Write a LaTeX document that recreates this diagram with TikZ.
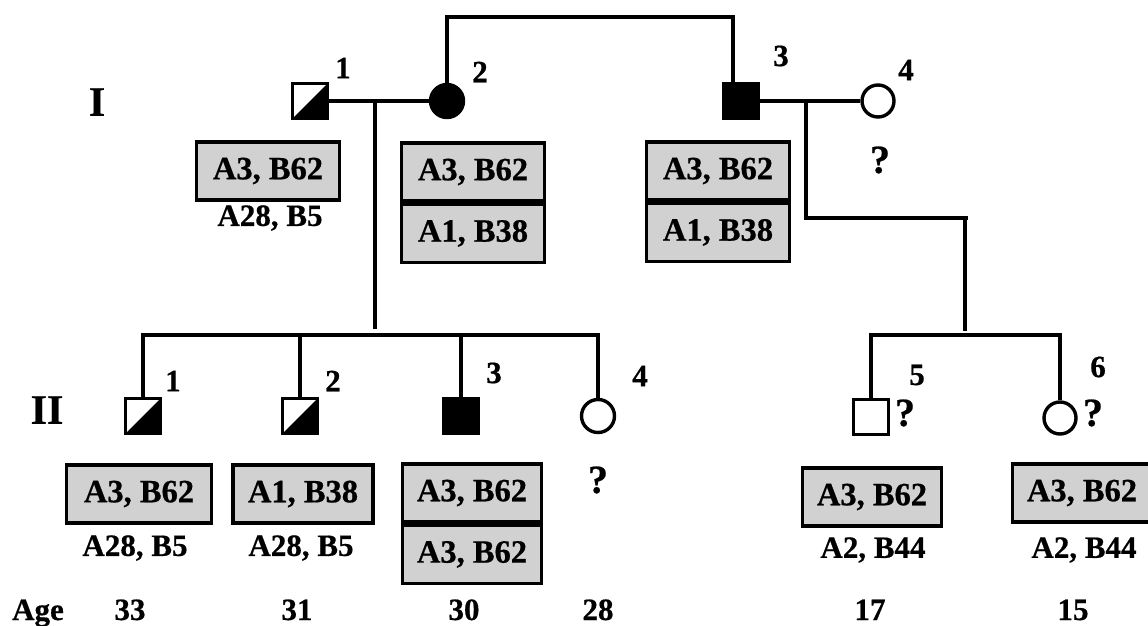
\documentclass[tikz,border=0pt]{standalone}
\usepackage{fontspec}
\setmainfont{Liberation Serif}
\newfontfamily\hlafont{Liberation Serif}[FakeBold=0.6]
\usetikzlibrary{positioning}

\begin{document}
\begin{tikzpicture}[x=1pt, y=-1pt, line width=3.4pt,
	male/.style={draw, rectangle, minimum size=35pt, inner sep=0pt},
	female/.style={draw, circle, minimum size=33pt, inner sep=0pt},
	carrier/.style={path picture={\fill (path picture bounding box.south west) -- (path picture bounding box.south east) -- (path picture bounding box.north east) -- cycle;}},
	hla/.style={draw, fill=black!18, minimum width=143pt, minimum height=58pt, inner sep=0pt, font=\hlafont\bfseries\fontsize{32.5}{34}\selectfont},
	txt/.style={inner sep=0pt, font=\hlafont\bfseries\fontsize{31}{33}\selectfont},
	query/.style={inner sep=0pt, font=\hlafont\bfseries\fontsize{40}{42}\selectfont},
	gen/.style={inner sep=0pt, font=\hlafont\bfseries\fontsize{42}{44}\selectfont}]
\useasboundingbox (0,0) rectangle (1148,626);

% generation I
\node[gen] (genI) at (97,102) {I};
\node[male, carrier] (i1) at (310,101) {};
\node[female, fill=black] (i2) at (447,101) {};
\node[male, fill=black] (i3) at (741,101) {};
\node[female, minimum size=32pt] (i4) at (878,101) {};
\coordinate (top2) at (447,17);
\coordinate (top3) at (733,17);
\coordinate (m1) at (375,101);
\coordinate (m2) at (806,101);
\coordinate (k2) at (806,218);
\coordinate (k3) at (968,218);
\coordinate (k4) at (965,218);

\draw (i1) -- (i2);
\draw (i3) -- (i4);
\draw (i2.north) -- (top2) -- (top3) -- (top3 |- i3.north);
\draw (m2) -- (k2) -- (k3);

\node[hla] (b1) at (268,171) {A3, B62};
\node[txt] (g1) at (270,218) {A28, B5};
\node[hla] (b2) at (473,172) {A3, B62};
\node[hla, below=0pt of b2] (b2b) {A1, B38};
\node[hla] (b3) at (718,171) {A3, B62};
\node[hla, below=0pt of b3] (b3b) {A1, B38};
\node[query] (q4) at (880,160) {?};

% generation II
\node[gen] (genII) at (47,410) {II};
\node[male, carrier] (c1) at (143,416) {};
\node[male, carrier] (c2) at (300,416) {};
\node[male, fill=black] (c3) at (461,416) {};
\node[female] (c4) at (598,416) {};
\node[male] (c5) at (871,417) {};
\node[female, minimum size=32pt] (c6) at (1060,418) {};

\coordinate (s1) at (375,335);
\coordinate (s2) at (965,335);
\draw (m1) -- ([yshift=6pt]s1);
\draw (k4) -- ([yshift=4pt]s2);
\draw (c1.north) |- (s1) -| (c4.north);
\foreach \c in {c2,c3}
	\draw (\c.north) -- (\c.north |- s1);
\draw (c5.north) |- (s2) -| (c6.north);

\node[hla, minimum width=145pt] (d1) at (139,494) {A3, B62};
\node[txt] (g2) at (135,548) {A28, B5};
\node[hla, minimum width=140pt] (d2) at (303,494) {A1, B38};
\node[txt] (g3) at (301,548) {A28, B5};
\node[hla, minimum width=139pt] (d3) at (472,493) {A3, B62};
\node[hla, minimum width=139pt, below=0pt of d3] (d3b) {A3, B62};
\node[hla, minimum width=139pt] (d5) at (872,497) {A3, B62};
\node[txt] (g5) at (873,550) {A2, B44};
\node[hla, minimum width=139pt] (d6) at (1082,493) {A3, B62};
\node[txt] (g6) at (1084,550) {A2, B44};

\node[query] (qc4) at (598,480) {?};
\node[query] (qc5) at (905,413) {?};
\node[query] (qc6) at (1093,413) {?};

% numbers
\foreach \n/\x/\y in {1/343/68, 2/480/72, 3/781/56, 4/906/70,
	1/173/381, 2/333/381, 3/494/373, 4/640/376, 5/917/375, 6/1098/367}
	\node[txt] (n\x) at (\x,\y) {\n};

% ages
\node[txt, anchor=base] (age) at (38,620) {Age};
\foreach \x/\a in {130/33, 297/31, 464/30, 598/28, 870/17, 1073/15}
	\node[txt, anchor=base] (age\a) at (\x,620) {\a};

\end{tikzpicture}
\end{document}
